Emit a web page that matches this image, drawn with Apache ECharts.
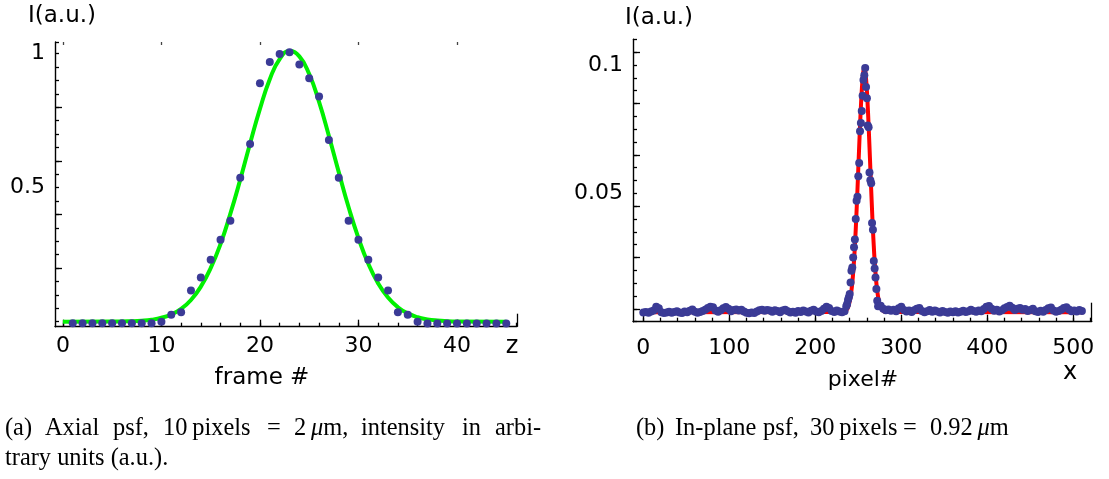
<!DOCTYPE html>
<html><head><meta charset="utf-8">
<script src="https://cdn.jsdelivr.net/npm/echarts@6/dist/echarts.min.js"></script>
<style>html,body{margin:0;padding:0;background:#fff}#c{width:1109px;height:479px}</style>
</head><body><div id="c"></div><script>
// ---------- Panel (a): axial psf ----------
const axialFrames = [1,2,3,4,5,6,7,8,9,10,11,12,13,14,15,16,17,18,19,20,21,22,23,24,25,26,27,28,29,30,31,32,33,34,35,36,37,38,39,40,41,42,43,44,45];
const axialIntensity = [-0.006,-0.006,-0.006,-0.006,-0.006,-0.006,-0.006,-0.006,-0.006,0.0,0.026,0.035,0.116,0.165,0.231,0.306,0.377,0.537,0.663,0.89,0.969,0.999,1.005,0.96,0.908,0.84,0.678,0.537,0.377,0.306,0.231,0.165,0.116,0.035,0.026,0.0,-0.007,-0.007,-0.007,-0.007,-0.007,-0.007,-0.007,-0.007,-0.007];
const axialFitZ = [0,5,7,8,9,10,11,12,13,14,15,16,17,18,19,20,21,22,23,24,25,26,27,28,29,30,31,32,33,34,35,36,37,38,39,40,45];
const axialFitI = [0,0.0003,0.0017,0.0036,0.0074,0.0145,0.027,0.048,0.081,0.131,0.2,0.29,0.403,0.53,0.665,0.794,0.905,0.98,1.01,0.99,0.924,0.82,0.693,0.558,0.427,0.312,0.216,0.143,0.09,0.054,0.031,0.0166,0.0086,0.0042,0.002,0.001,0];
const axialXTicksMinor = [0,2,4,6,8,10,12,14,16,18,20,22,24,26,28,30,32,34,36,38,40,42,44,46];
const axialXTicksMajor = [0,10,20,30,40];
const axialXLabels = [0,10,20,30,40];
const axialYTicksMinor = [0,0.05,0.1,0.15,0.2,0.25,0.3,0.35,0.4,0.45,0.5,0.55,0.6,0.65,0.7,0.75,0.8,0.85,0.9,0.95,1.0,1.0437];
const axialYTicksMajor = [0.2,0.4,0.6,0.8];
const axialYLabels = [0.5,1];

// ---------- Panel (b): in-plane psf ----------
const noiseLeftStart = 0, noiseRightStart = 276, noiseStep = 3;
const noiseLeft = [0.0036,0.0038,0.0035,0.0040,0.0044,0.0058,0.0052,0.0037,0.0034,0.0036,0.0039,0.0035,0.0038,0.0041,0.0036,0.0034,0.0040,0.0037,0.0043,0.0048,0.0039,0.0035,0.0038,0.0042,0.0047,0.0053,0.0058,0.0056,0.0044,0.0039,0.0045,0.0052,0.0057,0.0050,0.0041,0.0046,0.0048,0.0044,0.0047,0.0040,0.0035,0.0033,0.0036,0.0034,0.0040,0.0045,0.0047,0.0043,0.0046,0.0044,0.0039,0.0045,0.0042,0.0037,0.0044,0.0047,0.0041,0.0036,0.0039,0.0035,0.0042,0.0038,0.0044,0.0040,0.0036,0.0043,0.0047,0.0040,0.0037,0.0042,0.0050,0.0058,0.0053,0.0042,0.0038,0.0044,0.0040,0.0037,0.0041];
const noiseRight = [0.0062,0.0050,0.0045,0.0048,0.0043,0.0047,0.0041,0.0052,0.0058,0.0046,0.0040,0.0044,0.0038,0.0045,0.0050,0.0053,0.0042,0.0037,0.0041,0.0046,0.0039,0.0044,0.0040,0.0036,0.0042,0.0038,0.0035,0.0040,0.0037,0.0041,0.0036,0.0039,0.0043,0.0038,0.0041,0.0047,0.0042,0.0039,0.0044,0.0041,0.0049,0.0058,0.0061,0.0050,0.0043,0.0047,0.0040,0.0045,0.0052,0.0057,0.0062,0.0054,0.0046,0.0050,0.0053,0.0047,0.0049,0.0042,0.0046,0.0050,0.0041,0.0038,0.0043,0.0039,0.0046,0.0052,0.0055,0.0044,0.0039,0.0042,0.0047,0.0053,0.0056,0.0048,0.0041,0.0044,0.0040,0.0046,0.0042];
const peakPixels = [236,237,238,239,240,241,242,243,244,245,246,247,248,249,250,251,252,253,254,255,256,257,258,259,260,261,262,263,264,265,266,267,268,269,270,271,272,273];
const peakIntensity = [0.0060,0.0069,0.0085,0.0095,0.0108,0.0153,0.0198,0.0211,0.0250,0.0290,0.0320,0.0400,0.0471,0.0487,0.0567,0.0618,0.0742,0.0774,0.0821,0.0880,0.0941,0.0960,0.0988,0.0914,0.0870,0.0764,0.0757,0.0581,0.0551,0.0539,0.0384,0.0358,0.0236,0.0207,0.0172,0.0127,0.0082,0.0060];
const fitPixels = [0,232,235,237,238,239,240,241,242,243,244,245,246,247,248,249,250,251,252,253,254,255,256,257,258,259,260,261,262,263,264,265,266,267,268,269,270,271,272,273,274,275,276,277,279,282,512];
const fitIntensity = [0.0037,0.0038,0.0042,0.0049,0.0056,0.0066,0.0079,0.0097,0.0121,0.0151,0.0190,0.0237,0.0294,0.0359,0.0433,0.0513,0.0597,0.0681,0.0762,0.0836,0.0899,0.0947,0.0977,0.0987,0.0977,0.0947,0.0899,0.0836,0.0762,0.0681,0.0597,0.0513,0.0433,0.0359,0.0294,0.0237,0.0190,0.0151,0.0121,0.0097,0.0079,0.0066,0.0056,0.0049,0.0042,0.0038,0.0037];
const planeXTicksMinor = [0,20,40,60,80,100,120,140,160,180,200,220,240,260,280,300,320,340,360,380,400,420,440,460,480,500,520];
const planeXTicksMajor = [0,100,200,300,400,500];
const planeXLabels = [0,100,200,300,400,500];
const planeYTicksMinor = [0,0.005,0.01,0.015,0.02,0.025,0.03,0.035,0.04,0.045,0.05,0.055,0.06,0.065,0.07,0.075,0.08,0.085,0.09,0.095,0.1,0.105,0.11];
const planeYTicksMajor = [0.005,0.025,0.045,0.065,0.085,0.105];
const planeYLabels = [0.05,0.1];

// ---------- build ----------
const axialPoints = axialFrames.map((z,i)=>[z, axialIntensity[i]]);
const axialFit = axialFitZ.map((z,i)=>[z, axialFitI[i]]);
const planePoints = [];
noiseLeft.forEach((v,i)=>planePoints.push([noiseLeftStart + i*noiseStep, v]));
peakPixels.forEach((p,i)=>planePoints.push([p, peakIntensity[i]]));
noiseRight.forEach((v,i)=>planePoints.push([noiseRightStart + i*noiseStep, v]));
const planeFit = fitPixels.map((p,i)=>[p, fitIntensity[i]]);

const FONT = 'DejaVu Sans';
const INK = '#000';
const line = {show:true, onZero:false, lineStyle:{color:INK, width:1.4}};
const noLine = {show:false, onZero:false};
function tk(vals, len, color){ return {show:true, inside:true, length:len, customValues:vals, lineStyle:{color:color||INK, width:1.3}}; }
const labelStyle = {fontFamily:FONT, fontSize:22, color:INK};
const noLabel = {show:false};

const AX = {min:-0.8, max:46.09};
const AY = {min:-0.0187, max:1.0437};
const PX = {min:-12, max:521.4};
const PY = {min:0, max:0.11};

const chart = echarts.init(document.getElementById('c'), null, {renderer:'canvas'});
const T = (x,y,text,size)=>({type:'text', x, y, style:{text, font:size+'px "DejaVu Sans"', fill:INK, textAlign:'center', textVerticalAlign:'middle'}});
const S = (x,y,text)=>({type:'text', x, y, style:{text, font:'24.4px "Liberation Serif"', fill:'#000', textAlign:'left', textVerticalAlign:'middle',
  rich:{i:{fontStyle:'italic', fontFamily:'Liberation Serif', fontSize:24.4}}}});
chart.setOption({
  animation:false,
  backgroundColor:'#fff',
  grid:[
    {left:55, top:42, width:462, height:284.7},
    {left:633, top:39.3, width:458.7, height:282.4}
  ],
  xAxis:[
    {type:'value', gridIndex:0, position:'bottom', ...AX, axisLine:line, axisTick:tk(axialXTicksMinor,4), splitLine:{show:false},
      axisLabel:{...labelStyle, margin:9, customValues:axialXLabels}},
    {type:'value', gridIndex:0, position:'bottom', ...AX, axisLine:noLine, axisTick:tk(axialXTicksMajor,7), splitLine:{show:false}, axisLabel:noLabel},
    {type:'value', gridIndex:0, position:'bottom', ...AX, axisLine:noLine, axisTick:tk([AX.max],13), splitLine:{show:false}, axisLabel:noLabel},
    {type:'value', gridIndex:0, position:'top', ...AX, axisLine:noLine, axisTick:tk(axialXTicksMajor,3,'#444'), splitLine:{show:false}, axisLabel:noLabel},
    {type:'value', gridIndex:1, position:'bottom', ...PX, axisLine:line, axisTick:tk(planeXTicksMinor,4), splitLine:{show:false},
      axisLabel:{...labelStyle, margin:16, customValues:planeXLabels}},
    {type:'value', gridIndex:1, position:'bottom', ...PX, axisLine:noLine, axisTick:tk(planeXTicksMajor,7), splitLine:{show:false}, axisLabel:noLabel},
    {type:'value', gridIndex:1, position:'bottom', ...PX, axisLine:noLine, axisTick:tk([PX.max],19), splitLine:{show:false}, axisLabel:noLabel}
  ],
  yAxis:[
    {type:'value', gridIndex:0, position:'left', ...AY, axisLine:line, axisTick:tk(axialYTicksMinor,4), splitLine:{show:false},
      axisLabel:{...labelStyle, margin:10, customValues:axialYLabels}},
    {type:'value', gridIndex:0, position:'left', ...AY, axisLine:noLine, axisTick:tk(axialYTicksMajor,7), splitLine:{show:false}, axisLabel:noLabel},
    {type:'value', gridIndex:1, position:'left', ...PY, axisLine:line, axisTick:tk(planeYTicksMinor,4), splitLine:{show:false},
      axisLabel:{...labelStyle, margin:10, customValues:planeYLabels}},
    {type:'value', gridIndex:1, position:'left', ...PY, axisLine:noLine, axisTick:tk(planeYTicksMajor,7), splitLine:{show:false}, axisLabel:noLabel}
  ],
  series:[
    {type:'line', xAxisIndex:0, yAxisIndex:0, data:axialFit, smooth:true, showSymbol:false, symbol:'none',
      lineStyle:{color:'#00f000', width:4}, z:2},
    {type:'scatter', xAxisIndex:0, yAxisIndex:0, data:axialPoints, symbol:'circle', symbolSize:8,
      itemStyle:{color:'#3b3b96', opacity:1}, z:3},
    {type:'line', xAxisIndex:4, yAxisIndex:2, data:planeFit, smooth:true, showSymbol:false, symbol:'none',
      lineStyle:{color:'#ff0000', width:4}, z:2},
    {type:'scatter', xAxisIndex:4, yAxisIndex:2, data:planePoints, symbol:'circle', symbolSize:8,
      itemStyle:{color:'#3b3b96', opacity:1}, z:3}
  ],
  graphic:[
    T(62,16,'I(a.u.)',23),
    T(659,18,'I(a.u.)',23),
    T(512,347,'z',24),
    T(262,378,'frame #',23),
    T(863,380,'pixel#',22),
    T(1070,373,'x',24),
    S(5,429,'(a)'), S(45,429,'Axial'), S(113,429,'psf,'), S(163,429,'10\u2009pixels'), S(267,429,'='),
    S(294,429,'2\u2009{i|μ}m,'), S(361,429,'intensity'), S(462,429,'in'), S(495,429,'arbi-'),
    S(5,459,'trary units (a.u.).'),
    S(636,429,'(b)'), S(675,429,'In-plane'), S(763,429,'psf,'), S(810,429,'30\u2009pixels'), S(903,429,'='),
    S(930,429,'0.92\u2009{i|μ}m')
  ]
});
</script></body></html>
